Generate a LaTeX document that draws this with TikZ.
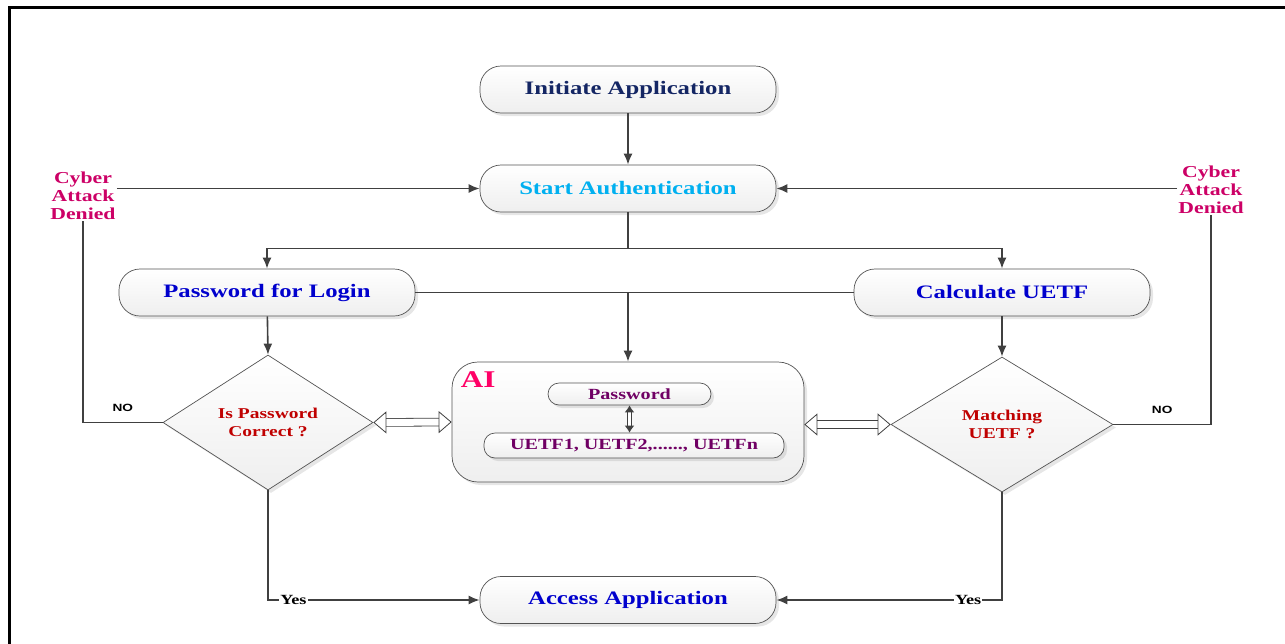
\documentclass[tikz,border=0pt]{standalone}
\usepackage{fontspec}
\setmainfont{Liberation Serif}[FakeStretch=1.3]
\newfontfamily\nofont{Liberation Sans}[FakeStretch=1.3]
\usetikzlibrary{arrows.meta,shapes.geometric,shadows,positioning}
\definecolor{linegray}{RGB}{64,64,64}
\definecolor{navytext}{RGB}{20,38,100}
\definecolor{cyantext}{RGB}{0,176,240}
\definecolor{bluetext}{RGB}{0,0,205}
\definecolor{cybertext}{RGB}{204,0,102}
\definecolor{redtext}{RGB}{192,0,0}
\definecolor{aitext}{RGB}{255,0,102}
\definecolor{purpletext}{RGB}{112,0,100}
\newcommand\fs[2]{\fontsize{#1}{#2}\selectfont\bfseries}

\begin{document}
\begin{tikzpicture}[x=1pt,y=-1pt,>={Latex[length=11pt,width=9pt]}]
		\tikzset{
			shade box/.style={draw=linegray!90,line width=0.7pt,top color=white,bottom color=gray!13,
				drop shadow={shadow xshift=3pt,shadow yshift=-3pt,opacity=0.2}},
			box/.style={shade box,rounded corners=21pt,minimum width=296pt,minimum height=47pt,font=\fs{19}{22}},
			decision/.style={shade box,diamond,align=center,minimum height=135pt,inner sep=0pt,
				font=\fs{15}{18},text=redtext},
			aibox/.style={shade box,rounded corners=11pt,minimum height=22pt,font=\fs{15.5}{18},text=purpletext},
			cyber/.style={align=center,font=\fs{16.7}{18},text=cybertext,inner sep=1pt},
			flow/.style={draw=linegray,line width=1.6pt},
			Hollow/.tip={Triangle[open,fill=white,length=13pt,width=22pt,line width=0.8pt]},
			hollow/.style={draw=linegray,line width=0.8pt,double=white,double distance=7pt,Hollow-Hollow},
			nolabel/.style={font=\nofont\fontsize{10.5}{12}\selectfont\bfseries,above=7pt},
			yeslabel/.style={font=\fs{14}{16},fill=white,inner sep=1pt}
		}
		\useasboundingbox (0,0) rectangle (1285,643);
		\draw[line width=3pt] (9.5,650) |- (1290,7.5);
		\node(init)[box,text=navytext] at (628,89.5) {Initiate Application};
		\node(start)[box,text=cyantext] at (628,188.5) {Start Authentication};
		\node(login)[box,text=bluetext] at (267,292.5) {Password for Login};
		\node(calc)[box,text=bluetext] at (1002,292.5) {Calculate UETF};
		\node(access)[box,text=bluetext] at (628,600) {Access Application};
		\node(pwdq)[decision,minimum width=210pt] at (268,422.5) {Is Password\\Correct ?};
		\node(uetfq)[decision,minimum width=222pt] at (1002,424.5) {Matching\\UETF ?};
		\node(ai)[shade box,rounded corners=26pt,minimum width=352pt,minimum height=120pt] at (628,422) {};
		\node(ailabel)[below right=10pt and 9pt of ai.north west,inner sep=0pt,font=\fs{24}{26},text=aitext] {AI};
		\node(aipwd)[aibox,minimum width=163pt] at (629.5,394) {Password};
		\node(aiuetf)[aibox,minimum width=300pt,minimum height=25pt] at (634,445.5) {UETF1, UETF2,......, UETFn};
		\node(cyberl)[cyber] at (83,196) {Cyber\\Attack\\Denied};
		\node(cyberr)[cyber] at (1211,190) {Cyber\\Attack\\Denied};
		\draw[flow,->] (init) -- (start);
		\draw[flow,->] (cyberl.east |- start) -- (start.west);
		\draw[flow,->] (cyberr.west |- start) -- (start.east);
		\draw[flow] (start.south) -- ++(0,36) coordinate(split);
		\draw[flow,->] (split) -| (login.north);
		\draw[flow,->] (split) -| (calc.north);
		\draw[flow] (login.east) -- (calc.west);
		\draw[flow,->] (login.east -| ai.north) -- (ai.north);
		\draw[flow,->] (login) -- (pwdq.north);
		\draw[flow,->] (calc) -- (uetfq.north);
		\draw[flow] (pwdq.west) -- node[nolabel]{NO} (cyberl.south |- pwdq.west) -- (cyberl.south);
		\draw[flow] (uetfq.east) -- node[nolabel]{NO} (cyberr.south |- uetfq.east) -- (cyberr.south);
		\draw[flow,->] (pwdq.south) |- node[yeslabel,pos=0.56]{Yes} (access.west);
		\draw[flow,->] (uetfq.south) |- node[yeslabel,pos=0.575]{Yes} (access.east);
		\draw[hollow] (pwdq.east) -- (ai.west);
		\draw[hollow] (ai.east |- uetfq.west) -- (uetfq.west);
		\draw[draw=linegray,line width=1.3pt,double=white,double distance=2.5pt,
			{Latex[length=7pt,width=10pt]}-{Latex[length=7pt,width=10pt]}] (aipwd.south) -- (aipwd.south |- aiuetf.north);
\end{tikzpicture}
\end{document}
